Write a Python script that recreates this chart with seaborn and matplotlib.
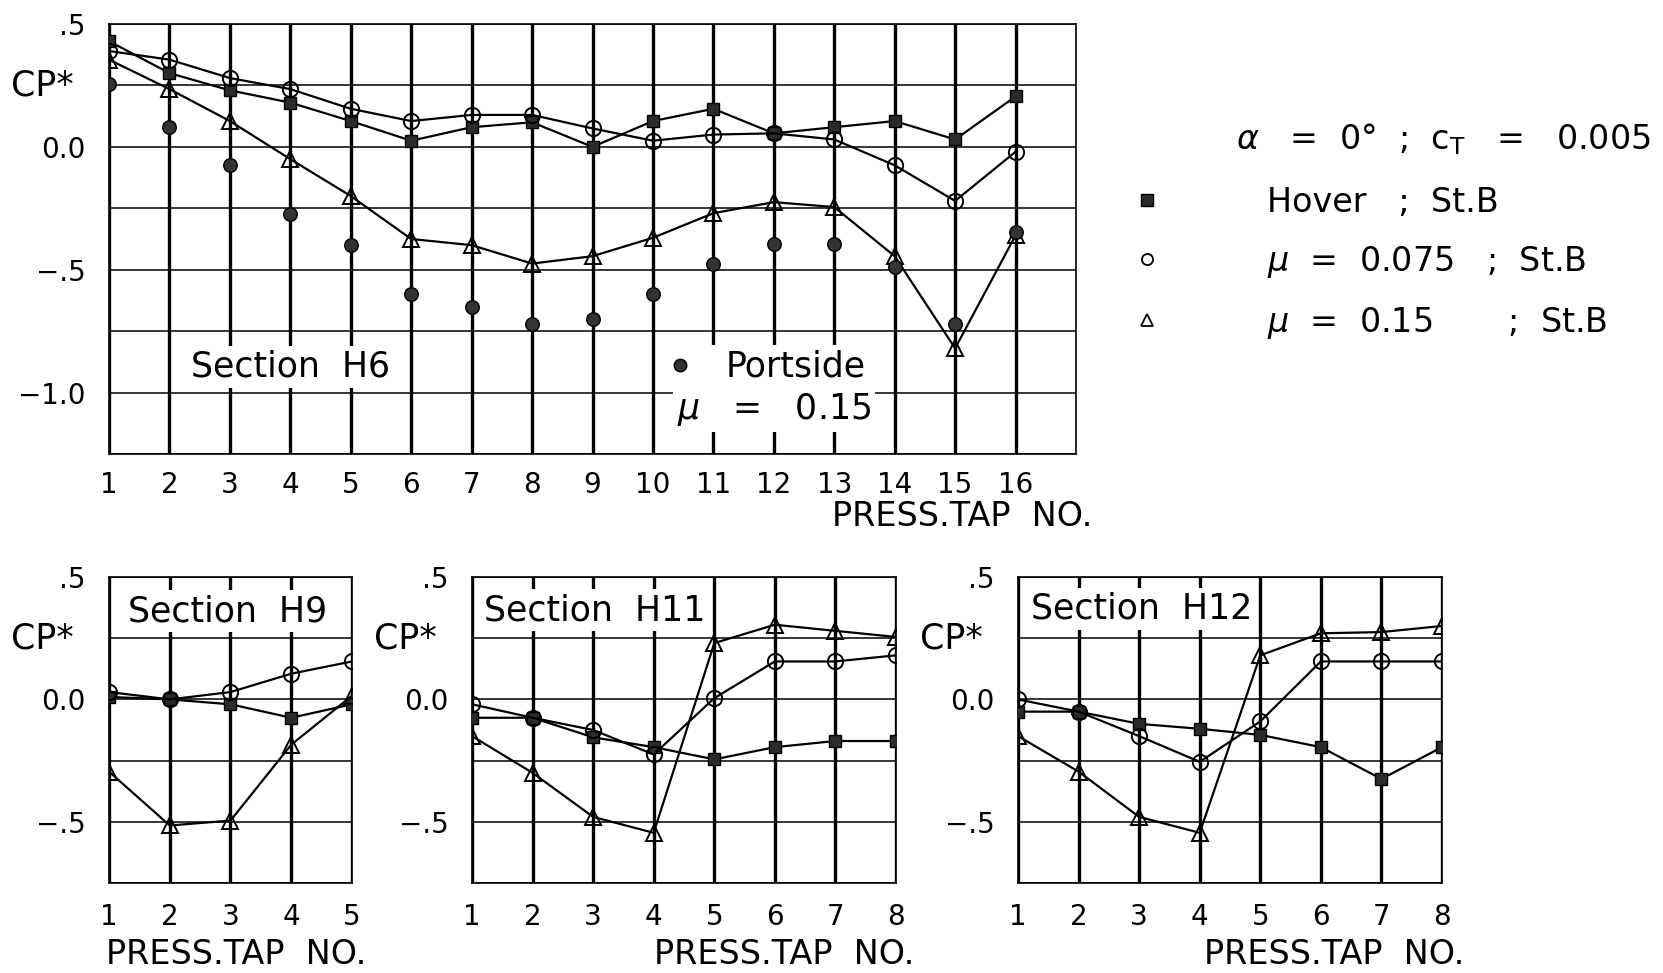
import numpy as np
import pandas as pd
import seaborn as sns
import matplotlib.pyplot as plt
from matplotlib.lines import Line2D

# Data (CP* per pressure tap)
taps_h6 = list(range(1, 17))
h6_hover = [0.43, 0.30, 0.23, 0.18, 0.105, 0.025, 0.08, 0.10, 0.0, 0.105, 0.155, 0.055, 0.08, 0.105, 0.03, 0.205]
h6_mu075 = [0.39, 0.355, 0.28, 0.235, 0.155, 0.105, 0.13, 0.13, 0.075, 0.025, 0.05, 0.055, 0.03, -0.075, -0.22, -0.02]
h6_mu15 = [0.355, 0.235, 0.105, -0.05, -0.20, -0.375, -0.40, -0.475, -0.445, -0.37, -0.27, -0.225, -0.245, -0.445, -0.82, -0.36]
h6_port = [0.255, 0.08, -0.075, -0.275, -0.40, -0.60, -0.65, -0.72, -0.70, -0.60, -0.475, -0.395, -0.395, -0.49, -0.72, -0.345]

taps_h9 = [1, 2, 3, 4, 5]
h9_hover = [0.01, 0.0, -0.02, -0.075, -0.02]
h9_mu075 = [0.03, 0.0, 0.03, 0.105, 0.155]
h9_mu15 = [-0.295, -0.515, -0.495, -0.185, 0.015]

taps_h11 = list(range(1, 9))
h11_hover = [-0.075, -0.075, -0.155, -0.195, -0.245, -0.195, -0.17, -0.17]
h11_mu075 = [-0.02, -0.075, -0.125, -0.225, 0.005, 0.155, 0.155, 0.18]
h11_mu15 = [-0.15, -0.30, -0.48, -0.545, 0.23, 0.305, 0.28, 0.255]

taps_h12 = list(range(1, 9))
h12_hover = [-0.05, -0.05, -0.10, -0.12, -0.145, -0.195, -0.325, -0.195]
h12_mu075 = [0.0, -0.05, -0.15, -0.255, -0.09, 0.155, 0.155, 0.155]
h12_mu15 = [-0.15, -0.295, -0.48, -0.545, 0.18, 0.27, 0.275, 0.30]

ytick_text = {0.5: '.5', 0.0: '0.0', -0.5: '\u2212.5', -1.0: '\u22121.0'}
legend_labels = ['Hover   ;  St.B', r'$\mu$  =  0.075   ;  St.B', r'$\mu$  =  0.15       ;  St.B']

sns.set_style('white')
plt.rcParams['font.family'] = ['DejaVu Sans']
plt.rcParams['mathtext.fontset'] = 'dejavusans'
for k in ['text.color', 'axes.labelcolor', 'xtick.color', 'ytick.color']:
    plt.rcParams[k] = 'k'

W, H = 1663, 973
fig = plt.figure(figsize=(W / 100, H / 100), dpi=100)


def make_axes(left, top, right, bottom):
    return fig.add_axes([left / W, 1 - bottom / H, (right - left) / W, (bottom - top) / H])


def style_axes(ax, ntaps, xmax, ymin, xpad):
    ax.set_xlim(1, xmax)
    ax.set_ylim(ymin, 0.5)
    ax.set_xticks(range(1, ntaps + 1))
    yt = np.arange(ymin, 0.501, 0.25)
    ax.set_yticks(yt)
    labs = []
    for v in yt:
        key = [k for k in ytick_text if np.isclose(k, v)]
        labs.append(ytick_text[key[0]] if key else '')
    ax.set_yticklabels(labs)
    ax.set_axisbelow(True)
    ax.grid(axis='x', color='k', lw=2.4)
    ax.grid(axis='y', color='k', lw=1.1)
    ax.tick_params(axis='x', direction='out', length=8.6, width=2.4, pad=xpad, labelsize=20)
    ax.tick_params(axis='y', direction='out', length=8.6, width=1.1, pad=8, labelsize=20)
    ax.set_xlabel('')
    ax.set_ylabel('')
    for s in ax.spines.values():
        s.set_color('k')
        s.set_linewidth(1.2)
    # CP* label at the 0.25 level, left of the axis
    w_px = ax.get_position().width * W
    ax.text(-35 / w_px, 0.25, 'CP*', transform=ax.get_yaxis_transform(),
            ha='right', va='center', fontsize=25)


def xlabel(ax, dx_px, dy_px):
    pos = ax.get_position()
    ax.text(1 + dx_px / (pos.width * W), -dy_px / (pos.height * H), 'PRESS.TAP  NO.',
            transform=ax.transAxes, ha='right', va='center', fontsize=24)


def draw_series(ax, taps, hover, mu075, mu15):
    sns.lineplot(x=taps, y=hover, ax=ax, color='k', lw=1.6, marker='s', ms=9,
                 markerfacecolor='#2b2b2b', mec='k', mew=1, zorder=4)
    sns.lineplot(x=taps, y=mu075, ax=ax, color='k', lw=1.6, marker='o', ms=11,
                 markerfacecolor='none', mec='k', mew=1.4, zorder=4)
    sns.lineplot(x=taps, y=mu15, ax=ax, color='k', lw=1.6, marker='^', ms=11,
                 markerfacecolor='none', mec='k', mew=1.4, zorder=4)


box = dict(facecolor='white', edgecolor='none', pad=3)

# Section H6
ax6 = make_axes(109, 24, 1076, 454)
draw_series(ax6, taps_h6, h6_hover, h6_mu075, h6_mu15)
sns.scatterplot(x=taps_h6, y=h6_port, ax=ax6, marker='o', s=95, color='#333333',
                edgecolor='k', linewidth=1, zorder=4)
style_axes(ax6, 16, 17, -1.25, 3.5)
xlabel(ax6, 16, 63)
ax6.text(4.0, -0.895, 'Section  H6', ha='center', va='center', fontsize=25, bbox=box, zorder=3)
port_handle = Line2D([], [], ls='none', marker='o', ms=9, markerfacecolor='#333333', markeredgecolor='k')
leg = ax6.legend([port_handle], ['Portside'], loc='center left', bbox_to_anchor=(9.85, -0.895),
                 bbox_transform=ax6.transData, fontsize=25, handlelength=0.8, handletextpad=0.9,
                 borderpad=0.15, frameon=True, fancybox=False, framealpha=1,
                 facecolor='white', edgecolor='none')
ax6.text(10.4, -1.07, r'$\mu$   =   0.15', ha='left', va='center', fontsize=25, bbox=box, zorder=3)

# Section H9
ax9 = make_axes(109, 577, 352, 883)
draw_series(ax9, taps_h9, h9_hover, h9_mu075, h9_mu15)
style_axes(ax9, 5, 5, -0.75, 6)
xlabel(ax9, 14, 72)
ax9.text(2.96, 0.36, 'Section  H9', ha='center', va='center', fontsize=25, bbox=box, zorder=3)

# Section H11
ax11 = make_axes(472, 577, 896, 883)
draw_series(ax11, taps_h11, h11_hover, h11_mu075, h11_mu15)
style_axes(ax11, 8, 8, -0.75, 6)
xlabel(ax11, 18, 72)
ax11.text(3.03, 0.365, 'Section  H11', ha='center', va='center', fontsize=25, bbox=box, zorder=3)

# Section H12
ax12 = make_axes(1018, 577, 1442, 883)
draw_series(ax12, taps_h12, h12_hover, h12_mu075, h12_mu15)
style_axes(ax12, 8, 8, -0.75, 6)
xlabel(ax12, 22, 72)
ax12.text(3.05, 0.37, 'Section  H12', ha='center', va='center', fontsize=25, bbox=box, zorder=3)

# key on the right
fig.text(1236 / W, 1 - 139 / H, r'$\alpha$   =  0°  ;  c$_{\mathrm{T}}$   =   0.005',
         ha='left', va='center', fontsize=24)
handles = [
    Line2D([], [], ls='none', marker='s', ms=8, markerfacecolor='#2b2b2b', markeredgecolor='k'),
    Line2D([], [], ls='none', marker='o', ms=8, markerfacecolor='none', markeredgecolor='k', mew=1.3),
    Line2D([], [], ls='none', marker='^', ms=8, markerfacecolor='none', markeredgecolor='k', mew=1.3),
]
fig.legend(handles, legend_labels, loc='upper left', bbox_to_anchor=(1132 / W, 1 - 186 / H),
           frameon=False, fontsize=24, handlelength=0.9, handletextpad=3.15,
           labelspacing=0.75, borderpad=0, borderaxespad=0)

fig.savefig('out.png', dpi=100)
